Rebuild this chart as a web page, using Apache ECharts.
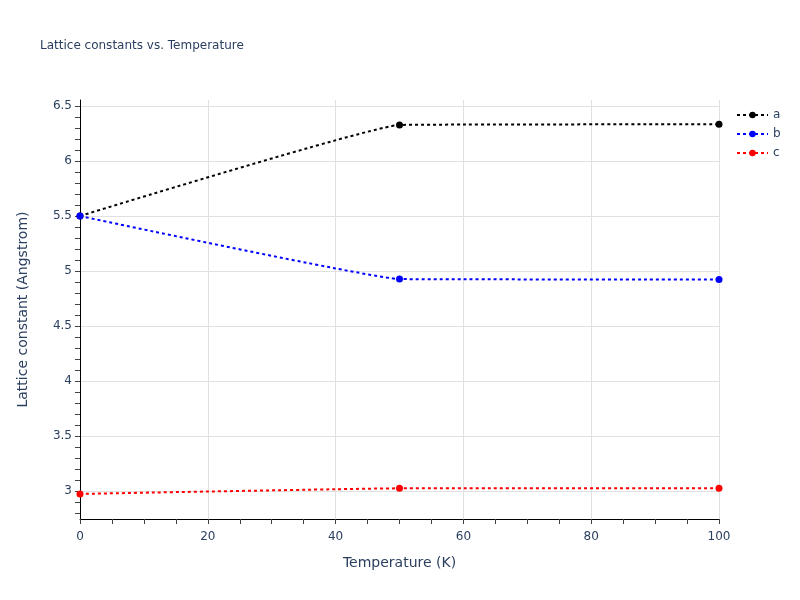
<!DOCTYPE html>
<html><head><meta charset="utf-8">
<script src="https://cdn.jsdelivr.net/npm/echarts@6/dist/echarts.min.js"></script>
<style>html,body{margin:0;padding:0;background:#fff}#c{width:800px;height:600px}</style>
</head><body><div id="c"></div>
<script>
const temperatures = [0, 50, 100];
const seriesA = [5.50, 6.328, 6.334];
const seriesB = [5.50, 4.927, 4.923];
const seriesC = [2.973, 3.024, 3.024];
const yMajorTicks = [3, 3.5, 4, 4.5, 5, 5.5, 6, 6.5];
const yMinorTicks = [2.8,2.9,3.0,3.1,3.2,3.3,3.4,3.5,3.6,3.7,3.8,3.9,4.0,4.1,4.2,4.3,4.4,4.5,4.6,4.7,4.8,4.9,5.0,5.1,5.2,5.3,5.4,5.5,5.6,5.7,5.8,5.9,6.0,6.1,6.2,6.3,6.4,6.5];
const yRange = [2.745, 6.555];
const xRange = [0, 100];

const txt = '#2a3f5f';
const font = '"DejaVu Sans", Verdana, sans-serif';
function mk(name, vals, color) {
  return {
    name, type: 'line', data: temperatures.map((t, i) => [t, vals[i]]),
    smooth: 0.08, symbol: 'circle', symbolSize: 7,
    itemStyle: { color },
    lineStyle: { color, width: 2, type: [3, 3] },
    z: 3
  };
}
const chart = echarts.init(document.getElementById('c'), null, { renderer: 'canvas' });
chart.setOption({
  backgroundColor: '#fff',
  animation: false,
  textStyle: { fontFamily: font },
  title: { text: 'Lattice constants vs. Temperature', left: 35, top: 35,
    textStyle: { fontSize: 12, fontWeight: 'normal', color: txt, fontFamily: font } },
  legend: { orient: 'vertical', left: 731, top: 104, itemGap: 7, itemWidth: 31, itemHeight: 8,
    textStyle: { fontSize: 12, color: txt, fontFamily: font },
    data: ['a', 'b', 'c'] },
  grid: { left: 80, right: 81, top: 100, bottom: 81, containLabel: false },
  xAxis: {
    type: 'value', min: xRange[0], max: xRange[1], interval: 20,
    name: 'Temperature (K)', nameLocation: 'middle', nameGap: 37,
    nameTextStyle: { fontSize: 14, color: txt, fontFamily: font },
    axisLine: { show: true, lineStyle: { color: '#000', width: 1 } },
    axisTick: { show: true, length: 5, lineStyle: { color: '#444' } },
    minorTick: { show: true, splitNumber: 4, length: 5, lineStyle: { color: '#444' } },
    axisLabel: { fontSize: 12, color: txt, margin: 12, fontFamily: font },
    splitLine: { show: true, lineStyle: { color: '#e0e0e0', width: 1 } }
  },
  yAxis: [{
    type: 'value', min: yRange[0], max: yRange[1],
    name: 'Lattice constant (Angstrom)', nameLocation: 'middle', nameGap: 50,
    nameTextStyle: { fontSize: 14, color: txt, fontFamily: font },
    axisLine: { show: true, lineStyle: { color: '#000', width: 1 } },
    axisTick: { show: true, length: 5, customValues: yMinorTicks, lineStyle: { color: '#444' } },
    axisLabel: { fontSize: 12, color: txt, margin: 8, customValues: yMajorTicks, fontFamily: font },
    splitLine: { show: false }
  }, {
    type: 'value', min: yRange[0], max: yRange[1], position: 'left',
    axisLine: { show: false }, axisLabel: { show: false },
    axisTick: { show: false, customValues: yMajorTicks },
    splitLine: { show: true, lineStyle: { color: '#e0e0e0', width: 1 } }
  }],
  series: [mk('a', seriesA, '#000000'), mk('b', seriesB, '#0000ff'), mk('c', seriesC, '#ff0000')]
});
</script></body></html>
